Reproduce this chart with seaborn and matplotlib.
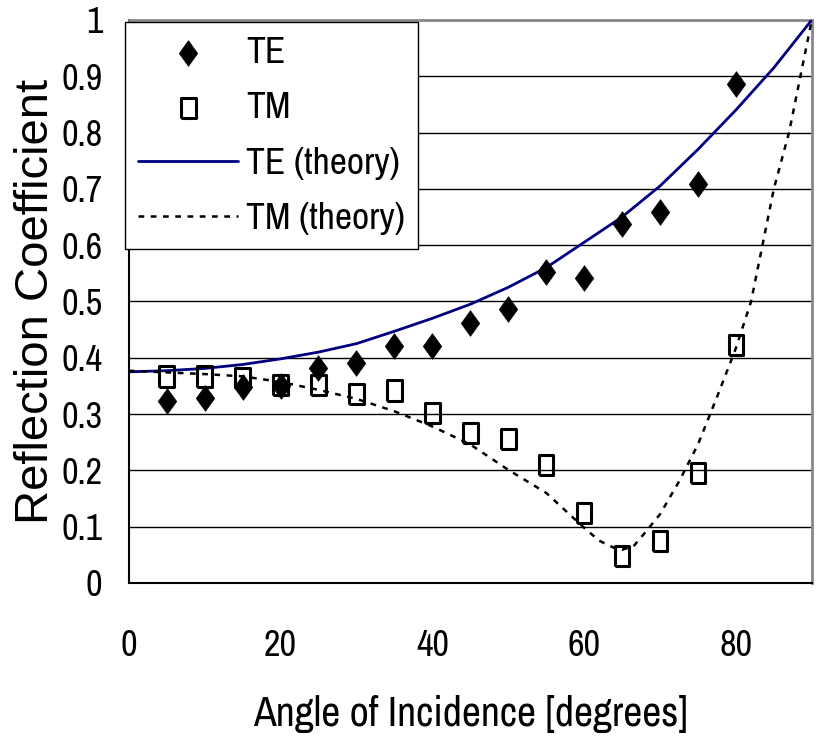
import numpy as np
import pandas as pd
import seaborn as sns
import matplotlib.pyplot as plt
from matplotlib import font_manager

angle = [5, 10, 15, 20, 25, 30, 35, 40, 45, 50, 55, 60, 65, 70, 75, 80]
te_meas = [0.323, 0.329, 0.348, 0.350, 0.381, 0.391, 0.420, 0.420,
           0.462, 0.487, 0.553, 0.542, 0.638, 0.659, 0.709, 0.886]
tm_meas = [0.367, 0.367, 0.364, 0.352, 0.352, 0.336, 0.342, 0.302,
           0.266, 0.256, 0.210, 0.124, 0.048, 0.074, 0.195, 0.423]

# theory curves
te_th_angle = [0, 5, 10, 15, 20, 25, 30, 35, 40, 45, 50, 55, 60, 65, 70, 75, 80, 85, 90]
te_th = [0.375, 0.377, 0.381, 0.388, 0.398, 0.410, 0.425, 0.447, 0.470, 0.495,
         0.525, 0.560, 0.605, 0.650, 0.705, 0.770, 0.840, 0.915, 1.0]
tm_th_angle = [0, 5, 10, 15, 20, 25, 30, 35, 40, 45, 50, 55, 60, 62, 64, 65, 66.5,
               68, 70, 72.5, 75, 77.5, 80, 82, 85, 87, 88.5, 90]
tm_th = [0.377, 0.374, 0.371, 0.367, 0.357, 0.343, 0.327, 0.305, 0.278, 0.246,
         0.201, 0.160, 0.098, 0.075, 0.062, 0.059, 0.065, 0.089, 0.122, 0.180,
         0.246, 0.330, 0.417, 0.500, 0.700, 0.800, 0.900, 1.0]

sns.set_style("white")

# pick the narrowest sans family that is installed
fonts = font_manager.fontManager.ttflist
narrow = None
for f in fonts:
    if 'Narrow' in f.name or 'Condensed' in f.name:
        narrow = f.name
        break
if narrow is None:
    narrow = 'Roboto'
plt.rcParams['font.family'] = [narrow, 'DejaVu Sans']
plt.rcParams['text.color'] = 'black'
plt.rcParams['axes.labelcolor'] = 'black'
plt.rcParams['xtick.color'] = 'black'
plt.rcParams['ytick.color'] = 'black'

fig = plt.figure(figsize=(8.2, 7.37), dpi=100)
ax = fig.add_axes([0.157, 0.209, 0.833, 0.764])

te_df = pd.DataFrame({'angle': angle, 'r': te_meas})
tm_df = pd.DataFrame({'angle': angle, 'r': tm_meas})
te_th_df = pd.DataFrame({'angle': te_th_angle, 'r': te_th})
tm_th_df = pd.DataFrame({'angle': tm_th_angle, 'r': tm_th})

rect = [(-0.72, -1), (0.72, -1), (0.72, 1), (-0.72, 1), (-0.72, -1)]
diamond = [(0, 1), (0.72, 0), (0, -1), (-0.72, 0), (0, 1)]

sns.lineplot(data=te_th_df, x='angle', y='r', ax=ax, color='#000080', lw=2,
             label='TE (theory)', zorder=3)
sns.lineplot(data=tm_th_df, x='angle', y='r', ax=ax, color='black', lw=1.8,
             label='TM (theory)', zorder=3)
ax.lines[-1].set_dashes([2.3, 2.6])
sns.scatterplot(data=te_df, x='angle', y='r', ax=ax, marker=diamond, s=340,
                color='black', edgecolor='black', linewidth=0.5, label='TE', zorder=4)
sns.scatterplot(data=tm_df, x='angle', y='r', ax=ax, marker=rect, s=215,
                facecolor='none', edgecolor='black', linewidth=2.2, label='TM', zorder=4)

ax.set_xlim(0, 90)
ax.set_ylim(0, 1)
ax.set_xticks([0, 20, 40, 60, 80])
ax.set_yticks(np.arange(0, 1.01, 0.1))
ax.set_yticklabels(['0', '0.1', '0.2', '0.3', '0.4', '0.5', '0.6', '0.7', '0.8', '0.9', '1'])
for y in np.arange(0.1, 0.95, 0.1):
    ax.axhline(y, color='black', lw=1, zorder=1)

ax.tick_params(axis='x', direction='in', length=15, width=1,
               pad=33, labelsize=26)
ax.tick_params(axis='y', length=0, pad=19, labelsize=26)
for s in ['left', 'bottom']:
    ax.spines[s].set_color('black')
    ax.spines[s].set_linewidth(1.5)
for s in ['top', 'right']:
    ax.spines[s].set_color('#888888')
    ax.spines[s].set_linewidth(2)

ax.set_xlabel('Angle of Incidence [degrees]', fontsize=30, labelpad=24)
ax.set_ylabel('Reflection Coefficient', fontsize=34,
              family=['Liberation Sans', 'DejaVu Sans'])
ax.yaxis.set_label_coords(-0.103, 0.5)

h, l = ax.get_legend_handles_labels()
order = [l.index(k) for k in ['TE', 'TM', 'TE (theory)', 'TM (theory)']]
leg = ax.legend([h[i] for i in order], [l[i] for i in order], loc='upper left',
                bbox_to_anchor=(-0.006, 0.996), borderaxespad=0, fontsize=27,
                fancybox=False, framealpha=1, edgecolor='black', handlelength=2.67,
                handletextpad=0.2, labelspacing=0.6, borderpad=0.36, markerscale=1.0)
leg.get_frame().set_linewidth(1)
leg.set_zorder(5)

fig.savefig('out.png', dpi=100)
